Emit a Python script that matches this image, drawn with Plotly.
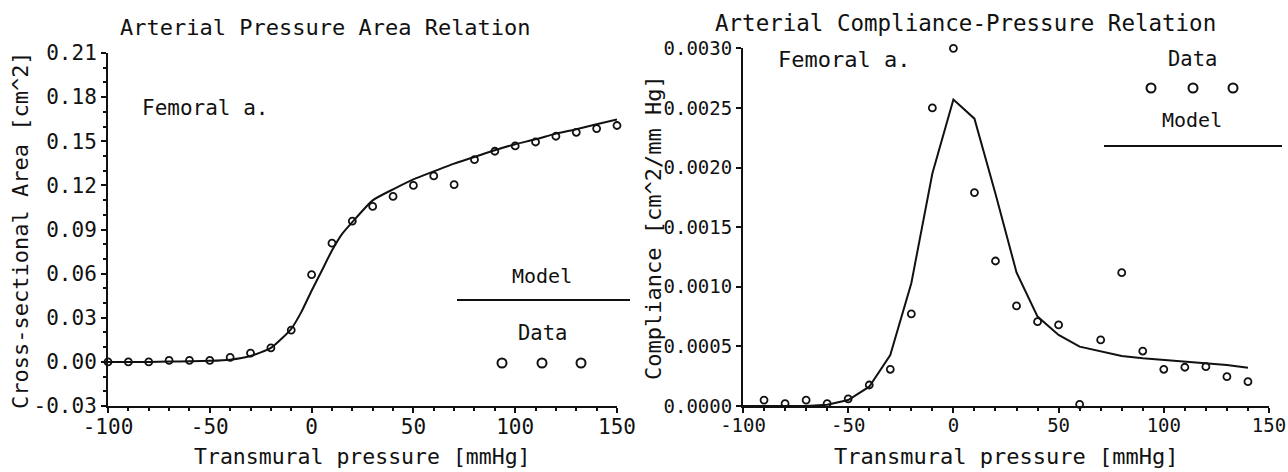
import plotly.graph_objects as go

# ---------------- data ----------------
# Left: Arterial Pressure Area Relation
area_p = [-100, -90, -80, -70, -60, -50, -40, -30, -20, -10, 0, 10, 20, 30, 40, 50,
          60, 70, 80, 90, 100, 110, 120, 130, 140, 150]
area_data = [0.000, 0.000, 0.000, 0.001, 0.001, 0.001, 0.003, 0.006, 0.0095, 0.0216,
             0.0593, 0.0807, 0.0957, 0.1057, 0.1125, 0.1200, 0.1264, 0.1205, 0.1375,
             0.1432, 0.1468, 0.1495, 0.1534, 0.1561, 0.1586, 0.1607]
area_model_p = [-100, -90, -80, -70, -60, -50, -40, -30, -20, -10, -5, 0, 5, 10, 15, 20,
                30, 40, 50, 60, 70, 80, 90, 100, 110, 120, 130, 140, 150]
area_model = [0.0, 0.0, 0.0, 0.0002, 0.0004, 0.0007, 0.0015, 0.004, 0.0095, 0.0225,
              0.034, 0.0484, 0.062, 0.0757, 0.087, 0.0950, 0.1098, 0.1173, 0.1241,
              0.1295, 0.1348, 0.1393, 0.1439, 0.1480, 0.1513, 0.1552, 0.1582, 0.1616,
              0.1648]

# Right: Arterial Compliance-Pressure Relation
comp_p = [-90, -80, -70, -60, -50, -40, -30, -20, -10, 0, 10, 20, 30, 40, 50, 60,
          70, 80, 90, 100, 110, 120, 130, 140]
comp_data = [0.00005, 0.00002, 0.00005, 0.00002, 0.00006, 0.000176, 0.000308, 0.000772,
             0.00250, 0.00300, 0.00179, 0.001216, 0.000839, 0.000707, 0.00068, 0.000014,
             0.000554, 0.001118, 0.000461, 0.000308, 0.000325, 0.00033, 0.000246,
             0.000204]
comp_model_p = [-100, -90, -80, -70, -60, -50, -40, -30, -20, -10, 0, 10, 20, 30, 40,
                50, 60, 70, 80, 90, 100, 110, 120, 130, 140]
comp_model = [0.0, 0.0, 0.0, 0.0, 0.00001, 0.00005, 0.000162, 0.000428, 0.00103,
              0.00195, 0.00257, 0.00241, 0.00178, 0.00112, 0.00075, 0.000596, 0.000498,
              0.000456, 0.00042, 0.0004, 0.000386, 0.000372, 0.000358, 0.000344,
              0.000321]

x_ticks = [-100, -50, 0, 50, 100, 150]
x_tick_text = ["-100", "-50", "0", "50", "100", "150"]
area_ticks = [-0.03, 0.0, 0.03, 0.06, 0.09, 0.12, 0.15, 0.18, 0.21]
area_tick_text = ["-0.03", "0.00", "0.03", "0.06", "0.09", "0.12", "0.15", "0.18", "0.21"]
comp_ticks = [0.0, 0.0005, 0.0010, 0.0015, 0.0020, 0.0025, 0.0030]
comp_tick_text = ["0.0000", "0.0005", "0.0010", "0.0015", "0.0020", "0.0025", "0.0030"]

# ---------------- layout helpers ----------------
W, H = 1288, 472
FONT = "DejaVu Sans Mono"
INK = "#111111"


def px(x):
    return x / W


def py(y):
    return 1 - y / H


fig = go.Figure()

# Left subplot
fig.add_trace(go.Scatter(x=area_model_p, y=area_model, mode="lines",
                         line=dict(color=INK, width=2, shape="spline", smoothing=0.6),
                         xaxis="x", yaxis="y", showlegend=False, cliponaxis=False))
fig.add_trace(go.Scatter(x=area_p, y=area_data, mode="markers",
                         marker=dict(symbol="circle-open", size=7, color=INK,
                                     line=dict(width=1.8, color=INK)),
                         xaxis="x", yaxis="y", showlegend=False, cliponaxis=False))
# Right subplot
fig.add_trace(go.Scatter(x=comp_model_p, y=comp_model, mode="lines",
                         line=dict(color=INK, width=2),
                         xaxis="x2", yaxis="y2", showlegend=False, cliponaxis=False))
fig.add_trace(go.Scatter(x=comp_p, y=comp_data, mode="markers",
                         marker=dict(symbol="circle-open", size=7, color=INK,
                                     line=dict(width=1.8, color=INK)),
                         xaxis="x2", yaxis="y2", showlegend=False, cliponaxis=False))

tickfont_l = dict(family=FONT, size=21, color=INK)
tickfont_r = dict(family=FONT, size=19, color=INK)

base = dict(showgrid=False, zeroline=False, showline=True, linecolor=INK, linewidth=2,
            ticks="outside", ticklen=5, tickwidth=2, tickcolor=INK, fixedrange=True,
            automargin=False)
over = dict(showgrid=False, zeroline=False, showline=False, showticklabels=False,
            ticks="inside", ticklen=5, tickwidth=2, tickcolor=INK, fixedrange=True,
            automargin=False)

L_X = [px(108), px(617)]
L_Y = [py(406), py(53)]
R_X = [px(743), px(1269)]
R_Y = [py(406), py(48.3)]

fig.update_layout(
    width=W, height=H,
    margin=dict(l=0, r=0, t=0, b=0),
    paper_bgcolor="white", plot_bgcolor="white",
    showlegend=False,
    xaxis=dict(**base, domain=L_X, range=[-100, 150], anchor="y",
               tickvals=x_ticks, ticktext=x_tick_text, tickfont=tickfont_l,
               ticklabelstandoff=-4,
               minor=dict(dtick=10, tick0=-100, ticks="outside", ticklen=3,
                          tickwidth=2, tickcolor=INK)),
    yaxis=dict(**base, domain=L_Y, range=[-0.03, 0.21], anchor="x",
               tickvals=area_ticks, ticktext=area_tick_text, tickfont=tickfont_l,
               minor=dict(dtick=0.01, tick0=-0.03, ticks="outside", ticklen=3,
                          tickwidth=2, tickcolor=INK)),
    xaxis2=dict(**base, domain=R_X, range=[-100, 150], anchor="y2",
                tickvals=x_ticks, ticktext=x_tick_text, tickfont=tickfont_r,
                ticklabelstandoff=-4,
                minor=dict(dtick=10, tick0=-100, ticks="outside", ticklen=3,
                           tickwidth=2, tickcolor=INK)),
    yaxis2=dict(**base, domain=R_Y, range=[0, 0.003], anchor="x2",
                tickvals=comp_ticks, ticktext=comp_tick_text, tickfont=tickfont_r),
    # overlay axes to draw the inward half of crossing tick marks
    xaxis3=dict(**over, overlaying="x", anchor="y", range=[-100, 150],
                tickvals=x_ticks,
                minor=dict(dtick=10, tick0=-100, ticks="inside", ticklen=3,
                           tickwidth=2, tickcolor=INK)),
    yaxis3=dict(**over, overlaying="y", anchor="x", range=[-0.03, 0.21],
                tickvals=area_ticks,
                minor=dict(dtick=0.01, tick0=-0.03, ticks="inside", ticklen=3,
                           tickwidth=2, tickcolor=INK)),
    xaxis4=dict(**over, overlaying="x2", anchor="y2", range=[-100, 150],
                tickvals=x_ticks,
                minor=dict(dtick=10, tick0=-100, ticks="inside", ticklen=3,
                           tickwidth=2, tickcolor=INK)),
    yaxis4=dict(**over, overlaying="y2", anchor="x2", range=[0, 0.003],
                tickvals=comp_ticks),
)


def text(s, x, y, size=21, angle=0):
    fig.add_annotation(text=s, x=px(x), y=py(y), xref="paper", yref="paper",
                       xanchor="center", yanchor="middle", showarrow=False,
                       textangle=angle, font=dict(family=FONT, size=size, color=INK))


# titles and labels
text("Arterial Pressure Area Relation", 325, 28, 22)
text("Arterial Compliance-Pressure Relation", 965, 23, 22.5)
text("Cross-sectional Area [cm^2]", 20, 230, 22, -90)
text("Compliance [cm^2/mm Hg]", 653, 228, 22, -90)
text("Transmural pressure [mmHg]", 362, 456, 21.5)
text("Transmural pressure [mmHg]", 1006, 456, 22)
text("Femoral a.", 205, 108, 21)
text("Femoral a.", 844, 59, 22)

# custom legends
text("Model", 542, 276, 20)
text("Data", 542, 333, 20.5)
text("Data", 1192, 59, 20.5)
text("Model", 1192, 120, 20)

shapes = []
shapes.append(dict(type="line", xref="paper", yref="paper", x0=px(457), x1=px(630),
                   y0=py(300), y1=py(300), line=dict(color=INK, width=2)))
shapes.append(dict(type="line", xref="paper", yref="paper", x0=px(1104), x1=px(1282),
                   y0=py(146), y1=py(146), line=dict(color=INK, width=2)))
for cx, cy in [(502, 363), (542, 363), (581, 363), (1151, 88), (1193, 88), (1233, 88)]:
    shapes.append(dict(type="circle", xref="paper", yref="paper",
                       xsizemode="pixel", ysizemode="pixel",
                       xanchor=px(cx), yanchor=py(cy), x0=-4.5, x1=4.5, y0=-4.5, y1=4.5,
                       line=dict(color=INK, width=2)))
fig.update_layout(shapes=shapes)

fig.write_html("out.html")
